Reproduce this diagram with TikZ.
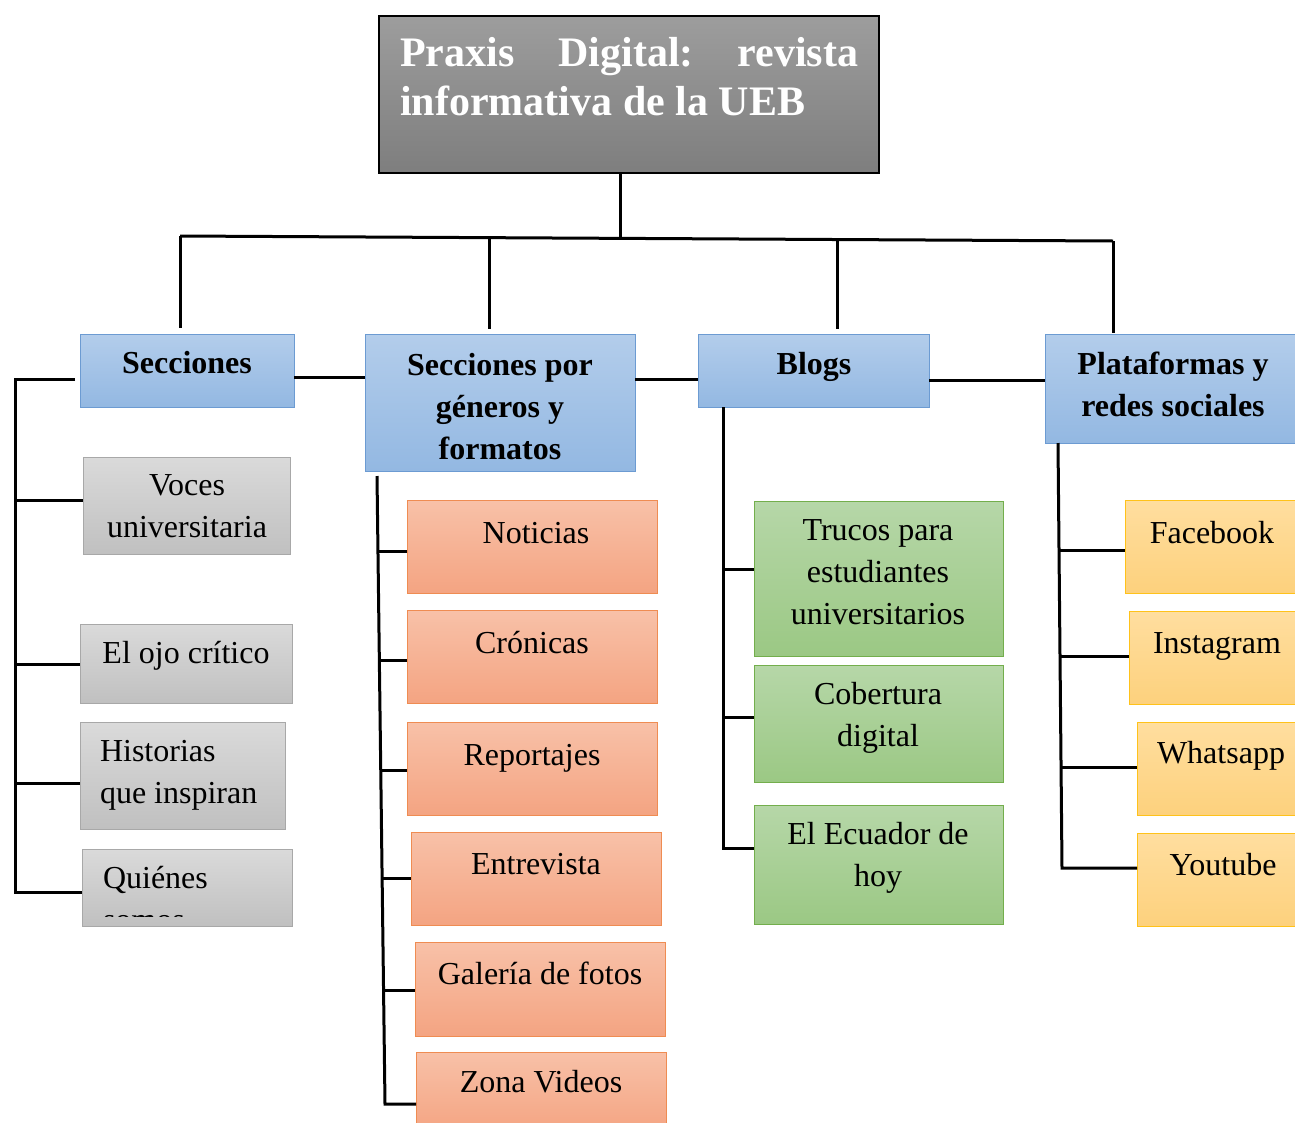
\documentclass[tikz,border=0pt]{standalone}
\usepackage{fontspec}
\setmainfont{Liberation Serif}
\usetikzlibrary{calc}
\definecolor{gtop}{HTML}{9D9D9D}
\definecolor{gbot}{HTML}{7E7E7E}
\definecolor{btop}{HTML}{B3CDEB}
\definecolor{bbot}{HTML}{93B8E2}
\definecolor{bedge}{HTML}{6C9BD2}
\definecolor{stop}{HTML}{DADADA}
\definecolor{sbot}{HTML}{C0C0C0}
\definecolor{sedge}{HTML}{A8A8A8}
\definecolor{otop}{HTML}{F8C1A8}
\definecolor{obot}{HTML}{F4A482}
\definecolor{oedge}{HTML}{EF8C52}
\definecolor{ntop}{HTML}{B6D7A8}
\definecolor{nbot}{HTML}{9BC884}
\definecolor{nedge}{HTML}{73AE4C}
\definecolor{ytop}{HTML}{FFDE9F}
\definecolor{ybot}{HTML}{FDD17D}
\definecolor{yedge}{HTML}{FFC21A}
% box macro: style, name, left, top, right, bottom
\newcommand\mkbox[6]{\node[#1, minimum width={#5-#3}, minimum height={#6-#4}] (#2) at ({(#3+#5)/2},{(#4+#6)/2}) {};}
\begin{document}
\begin{tikzpicture}[x=1pt,y=-1pt,
  cell/.style={rectangle, draw, line width=1pt, inner sep=0pt, outer sep=0pt},
  titlebox/.style={cell, draw=black, line width=1.5pt, top color=gtop, bottom color=gbot},
  hdrbox/.style={cell, draw=bedge, top color=btop, bottom color=bbot},
  graybox/.style={cell, draw=sedge, top color=stop, bottom color=sbot},
  orbox/.style={cell, draw=oedge, top color=otop, bottom color=obot},
  grbox/.style={cell, draw=nedge, top color=ntop, bottom color=nbot},
  yebox/.style={cell, draw=yedge, top color=ytop, bottom color=ybot},
  lbl/.style={inner sep=0pt, outer sep=0pt, font=\fontsize{32}{42}\selectfont},
  hdr/.style={inner sep=0pt, outer sep=0pt, font=\fontsize{32}{42}\selectfont\bfseries},
  link/.style={line width=3pt, black, line join=miter}]
\useasboundingbox (0,0) rectangle (1295,1122);
\def\sh{29.4}

% ---- boxes ----
\mkbox{titlebox}{title}{379}{16}{879}{173}
\mkbox{hdrbox}{secc}{80}{334}{294}{407}
\mkbox{hdrbox}{gen}{365}{334}{635}{471}
\mkbox{hdrbox}{blogs}{698}{334}{929}{407}
\mkbox{hdrbox}{plat}{1045}{334}{1302}{443}
\mkbox{graybox}{voces}{83}{457}{290}{554}
\mkbox{graybox}{ojo}{80}{624}{292}{703}
\mkbox{graybox}{hist}{80}{722}{285}{829}
\mkbox{graybox}{quien}{82}{849}{292}{926}
\mkbox{orbox}{noti}{407}{500}{657}{593}
\mkbox{orbox}{cron}{407}{610}{657}{703}
\mkbox{orbox}{repo}{407}{722}{657}{815}
\mkbox{orbox}{entre}{411}{832}{661}{925}
\mkbox{orbox}{gal}{415}{942}{665}{1036}
\mkbox{orbox}{zona}{416}{1052}{666}{1132}
\mkbox{grbox}{trucos}{754}{501}{1003}{656}
\mkbox{grbox}{cober}{754}{665}{1003}{782}
\mkbox{grbox}{ecua}{754}{805}{1003}{924}
\mkbox{yebox}{face}{1125}{500}{1302}{593}
\mkbox{yebox}{insta}{1129}{611}{1302}{704}
\mkbox{yebox}{whats}{1137}{722}{1302}{815}
\mkbox{yebox}{yout}{1137}{833}{1302}{926}

% ---- texts ----
\node[inner sep=0pt, anchor=north west, align=left, text=white,
      font=\fontsize{42}{49}\selectfont\bfseries] (tTitle) at (400,31.7)
  {\strut\makebox[458pt][s]{Praxis\hfill Digital:\hfill revista}\\informativa de la UEB};
\node[hdr, anchor=base] (tSecc) at (187,373) {Secciones};
\node[hdr, anchor=north, align=center] (tGen) at (500,{375-\sh}) {\strut Secciones por\\géneros y\\formatos};
\node[hdr, anchor=base] (tBlogs) at (814,374) {Blogs};
\node[hdr, anchor=north, align=center] (tPlat) at (1173,{374-\sh}) {\strut Plataformas y\\redes sociales};
\node[lbl, anchor=north, align=center] (tVoces) at (187,{495-\sh}) {\strut Voces\\universitaria};
\node[lbl, anchor=base] (tOjo) at (186,663) {El ojo crítico};
\node[lbl, anchor=north west, align=left] (tHist) at (100,{761-\sh}) {\strut Historias\\que inspiran};
\begin{scope}
  \clip (82,849) rectangle (292,916);
  \node[lbl, anchor=north west, align=left] (tQuien) at (103,{888-\sh}) {\strut Quiénes\\somos};
\end{scope}
\node[lbl, anchor=base] (tNoti) at (536,543) {Noticias};
\node[lbl, anchor=base] (tCron) at (532,653) {Crónicas};
\node[lbl, anchor=base] (tRepo) at (532,765) {Reportajes};
\node[lbl, anchor=base] (tEntre) at (536,874) {Entrevista};
\node[lbl, anchor=base] (tGal) at (540,984) {Galería de fotos};
\node[lbl, anchor=base] (tZona) at (541,1092) {Zona Videos};
\node[lbl, anchor=north, align=center] (tTrucos) at (878,{540-\sh}) {\strut Trucos para\\estudiantes\\universitarios};
\node[lbl, anchor=north, align=center] (tCober) at (878,{704-\sh}) {\strut Cobertura\\digital};
\node[lbl, anchor=north, align=center] (tEcua) at (878,{844-\sh}) {\strut El Ecuador de\\hoy};
\node[lbl, anchor=base] (tFace) at (1212,543) {Facebook};
\node[lbl, anchor=base] (tInsta) at (1217,653) {Instagram};
\node[lbl, anchor=base] (tWhats) at (1221,763) {Whatsapp};
\node[lbl, anchor=base] (tYout) at (1223,875) {Youtube};

% ---- top bus ----
\coordinate (drop) at (620,173);
\coordinate (busA) at (180,236);
\coordinate (busB) at (489,237.7);
\coordinate (busM) at (620,238.4);
\coordinate (busC) at (837,239.5);
\coordinate (busD) at (1113,241);
\draw[link] (drop) -- (busM);
\draw[link] (busA) -- (busD);
\draw[link] (busA) -- (busA |- 0,328);
\draw[link] (busB) -- (busB |- 0,329);
\draw[link] (busC) -- (busC |- 0,329);
\draw[link] (busD) -- (busD |- 0,333);

% ---- links between headers ----
\draw[link] (secc.east |- 0,377) -- (gen.west |- 0,377);
\draw[link] (gen.east |- 0,379) -- (blogs.west |- 0,379);
\draw[link] (blogs.east |- 0,380) -- (plat.west |- 0,380);

% ---- Secciones branch ----
\draw[link] (75,379) -- (15,379) -- (15,892) -- (quien.west |- 0,892);
\draw[link] (15,500) -- (voces.west |- 0,500);
\draw[link] (15,664) -- (ojo.west |- 0,664);
\draw[link] (15,783) -- (hist.west |- 0,783);

% ---- genres branch ----
\draw[link] (377,476) -- (385,1104) -- (zona.west |- 0,1104);
\draw[link] (378,551) -- (noti.west |- 0,551);
\draw[link] (379.3,660) -- (cron.west |- 0,660);
\draw[link] (380.7,770) -- (repo.west |- 0,770);
\draw[link] (382,878) -- (entre.west |- 0,878);
\draw[link] (383.5,990) -- (gal.west |- 0,990);

% ---- blogs branch ----
\draw[link] (723,407) -- (723,848) -- (ecua.west |- 0,848);
\draw[link] (723,569) -- (trucos.west |- 0,569);
\draw[link] (723,717) -- (cober.west |- 0,717);

% ---- platforms branch ----
\draw[link] (1058,443) -- (1062,868) -- (yout.west |- 0,868);
\draw[link] (1059,550) -- (face.west |- 0,550);
\draw[link] (1060.2,656) -- (insta.west |- 0,656);
\draw[link] (1061.2,767) -- (whats.west |- 0,767);
\end{tikzpicture}
\end{document}
